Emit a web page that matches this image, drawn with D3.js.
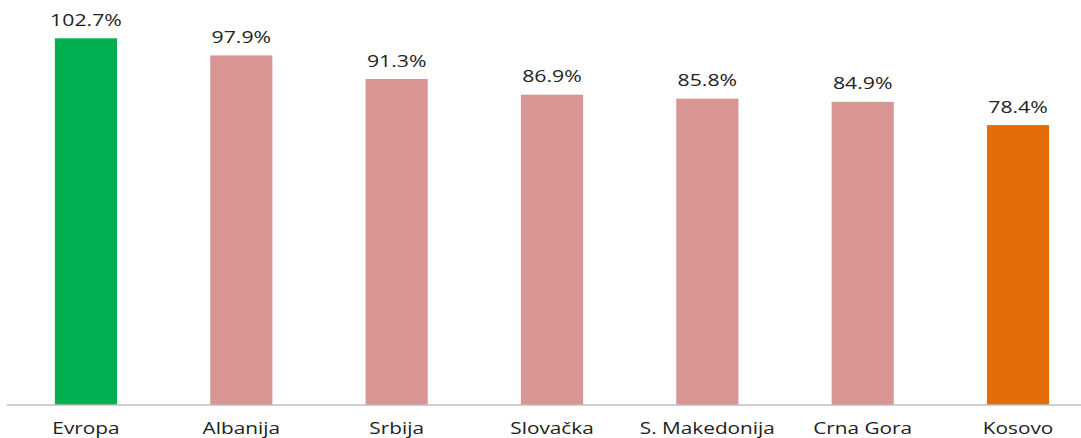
<!DOCTYPE html>
<html>
<head>
<meta charset="utf-8">
<script src="https://cdn.jsdelivr.net/npm/d3@7"></script>
<style>
  html, body { margin: 0; padding: 0; background: #fff; }
  svg { display: block; }
  text { font-family: "Open Sans", sans-serif; fill: #222; }
</style>
</head>
<body>
<svg id="chart" width="1081" height="438"></svg>
<script>
// Share of values per region (%)
const categories = ["Evropa", "Albanija", "Srbija", "Slovačka", "S. Makedonija", "Crna Gora", "Kosovo"];
const values = [102.7, 97.9, 91.3, 86.9, 85.8, 84.9, 78.4];
const barColors = ["#00b050", "#d99594", "#d99594", "#d99594", "#d99594", "#d99594", "#e36c09"];

const svg = d3.select("#chart");
const baseY = 405;
const valStretch = 1.25;
const catStretch = 1.3;

const x = d3.scaleBand()
  .domain(categories)
  .range([8.3, 1095.7])
  .paddingInner(0.6)
  .paddingOuter(0.3);

const y = d3.scaleLinear()
  .domain([0, 102.7])
  .range([baseY, 38.3]);

const data = categories.map((c, i) => ({ c, v: values[i], color: barColors[i] }));

svg.selectAll("rect.bar")
  .data(data)
  .join("rect")
  .attr("class", "bar")
  .attr("x", d => x(d.c))
  .attr("y", d => y(d.v))
  .attr("width", x.bandwidth())
  .attr("height", d => baseY - y(d.v))
  .attr("fill", d => d.color);

// baseline axis
const axis = svg.append("g")
  .attr("transform", `translate(0,${baseY})`)
  .call(d3.axisBottom(x).tickSize(0).tickSizeOuter(0).tickFormat(""));
axis.select(".domain").attr("stroke", "#bfbfbf").attr("stroke-width", 1.3)
  .attr("d", "M7,0H1081");

// value labels
svg.selectAll("text.val")
  .data(data)
  .join("text")
  .attr("class", "val")
  .attr("text-anchor", "middle")
  .attr("font-size", 17)
  .attr("transform", d => `translate(${x(d.c) + x.bandwidth() / 2},${y(d.v) - 12.5}) scale(${valStretch},1)`)
  .text(d => d.v.toFixed(1) + "%");

// category labels
svg.selectAll("text.cat")
  .data(data)
  .join("text")
  .attr("class", "cat")
  .attr("text-anchor", "middle")
  .attr("font-size", 16)
  .attr("transform", d => `translate(${x(d.c) + x.bandwidth() / 2},434) scale(${catStretch},1)`)
  .text(d => d.c);
</script>
</body>
</html>
